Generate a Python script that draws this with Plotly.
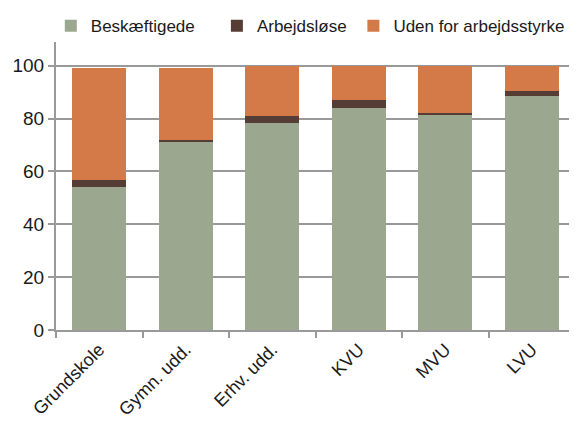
'''
stacked bar: labour market status by education level
'''

import plotly.graph_objects as go

categories = ['Grundskole', 'Gymn. udd.', 'Erhv. udd.', 'KVU', 'MVU', 'LVU']

beskaeftigede = [54.3, 71.3, 78.4, 84.0, 81.2, 88.6]
arbejdsloese = [2.3, 0.8, 2.6, 3.0, 1.0, 1.8]
uden_for = [42.5, 27.0, 19.0, 13.0, 17.8, 9.6]

ytick_vals = [0, 20, 40, 60, 80, 100]

colors = {
    'Beskæftigede': '#9ba88f',
    'Arbejdsløse': '#553c35',
    'Uden for arbejdsstyrke': '#d47a48',
}

series = [
    ('Beskæftigede', beskaeftigede, 'legend'),
    ('Arbejdsløse', arbejdsloese, 'legend2'),
    ('Uden for arbejdsstyrke', uden_for, 'legend3'),
]

data = [go.Bar(
    x=categories,
    y=vals,
    name=name,
    legend=leg,
    marker_color=colors[name],
    marker_line_width=0,
) for name, vals, leg in series]

grey = '#999999'
font = 'Arial, Liberation Sans, sans-serif'


def legend_at(x):
    # one legend box per series so each entry can sit where the reference has it
    return dict(
        orientation='h',
        x=x, xanchor='left',
        y=1.055, yanchor='middle',
        font=dict(size=17),
        itemwidth=30,
        bgcolor='rgba(0,0,0,0)',
    )


# the page body adds an 8px offset, margins compensate for it
layout = go.Layout(
    width=577,
    height=425,
    template='none',
    barmode='stack',
    bargap=0.38,
    margin=dict(l=48, r=10, t=34, b=103, autoexpand=False),
    paper_bgcolor='white',
    plot_bgcolor='white',
    font=dict(family=font, size=17, color='#1a1a1a'),
    showlegend=True,
    legend=legend_at(-0.01),
    legend2=legend_at(0.310),
    legend3=legend_at(0.573),
    xaxis=dict(
        showgrid=False,
        showline=True,
        linecolor=grey,
        linewidth=2,
        ticks='outside',
        tickson='boundaries',
        ticklen=6,
        tickcolor=grey,
        tickwidth=2,
        tickangle=-45,
        tickfont=dict(size=18),
        automargin=False,
    ),
    yaxis=dict(
        range=[0, 109],
        tickvals=ytick_vals,
        showgrid=True,
        gridcolor=grey,
        gridwidth=2,
        zeroline=False,
        showline=True,
        linecolor=grey,
        linewidth=2,
        ticks='outside',
        ticklen=6,
        tickcolor=grey,
        tickwidth=2,
        tickfont=dict(size=19),
        automargin=False,
    ),
)

fig = go.Figure(data=data, layout=layout)
fig.write_html('out.html')
